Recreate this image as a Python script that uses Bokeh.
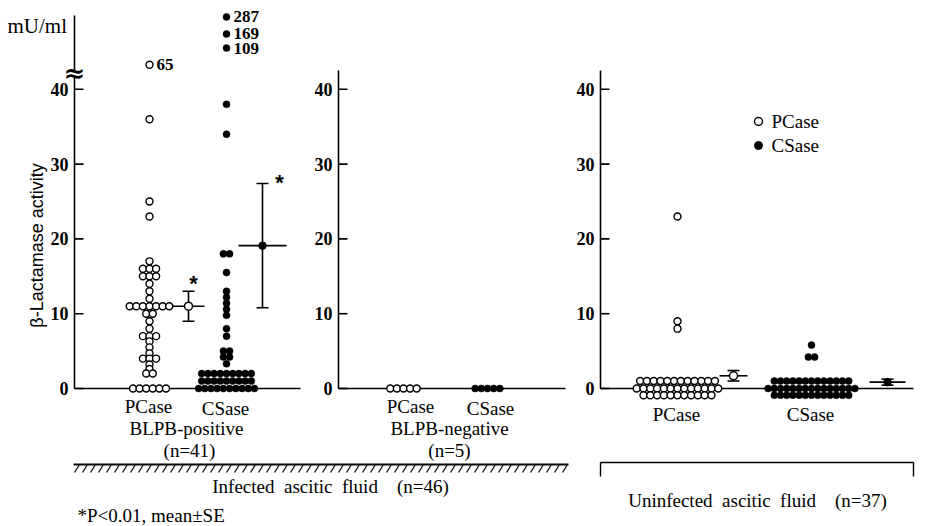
import math
from bokeh.plotting import figure
from bokeh.models import Range1d
from bokeh.core.properties import value
from bokeh.embed import file_html
from bokeh.resources import INLINE

# ------------------------------------------------------------------ data
tick_values = [0, 10, 20, 30, 40]

# BLPB-positive infected ascitic fluid (n=41)
pos_pcase = [65, 36, 25, 23, 17, 16, 16, 16, 15, 15, 15, 14, 13, 12,
             11, 11, 11, 11, 11, 11, 11, 10, 10, 9, 8, 7, 7, 7, 6.3, 5.5, 4.7,
             4, 4, 4, 3.2, 2.6, 2, 2, 0, 0, 0, 0, 0, 0]
pos_csase = [287, 169, 109, 38, 34, 18, 18, 15.5, 13, 12.2, 11.4, 10.6, 9.8,
             8, 7, 5, 5, 4.2, 4.2, 3.3,
             2, 2, 2, 2, 2, 2, 2, 2, 2,
             1, 1, 1, 1, 1, 1, 1, 1, 1,
             0, 0, 0, 0, 0, 0, 0, 0, 0, 0]
# BLPB-negative (n=5)
neg_pcase = [0, 0, 0, 0, 0]
neg_csase = [0, 0, 0, 0, 0]
# Uninfected ascitic fluid (n=37)
uninf_pcase = [23, 9, 8,
               1, 1, 1, 1, 1, 1, 1, 1, 1, 1, 1, 1,
               0, 0, 0, 0, 0, 0, 0, 0, 0, 0, 0, 0, 0, 0, 0, 0, 0, 0, 0, 0, 0, 0, 0, 0]
uninf_csase = [5.8, 4.2, 4.2,
               1, 1, 1, 1, 1, 1, 1, 1, 1, 1, 1, 1, 1,
               0, 0, 0, 0, 0, 0, 0, 0, 0, 0, 0, 0, 0, 0,
               0, 0, 0, 0, 0, 0, 0, 0, 0, 0, 0, 0, 0, 0]

# mean +/- SE (pos PCase, pos CSase, uninf PCase, uninf CSase)
mean_values = [11.0, 19.1, 1.7, 0.85]
se_values = [2.0, 8.3, 0.7, 0.4]
mean_open = [True, False, True, False]

# ------------------------------------------------------------------ layout helpers
W, H = 927, 526
PX = 7.48      # pixels per unit
Y0 = 388       # pixel row of value 0


def ry(py):
    return (Y0 - py) / PX


def disp(v):
    # broken axis above 40
    return v if v <= 40 else 41.2 + 4.3 * math.log(v / 40.0)


def swarm(vals, cx, step, per_row, row_gap=0.9):
    groups = {}
    for v in vals:
        groups[v] = groups.get(v, 0) + 1
    xs, ys = [], []
    for v, n in groups.items():
        yv = disp(v)
        remaining = n
        r = 0
        while remaining > 0:
            k = min(per_row, remaining)
            remaining -= k
            for i in range(k):
                xs.append(cx + (i - (k - 1) / 2) * step)
                ys.append(yv - r * row_gap)
            r += 1
    return xs, ys


SERIF = "Liberation Serif"

p = figure(width=W, height=H, x_range=Range1d(0, W),
           y_range=Range1d(ry(H), ry(0)), output_backend="svg",
           toolbar_location=None, title=None, x_axis_location=None,
           y_axis_location=None)
p.min_border_left = 0
p.min_border_right = 0
p.min_border_top = 0
p.min_border_bottom = 0
p.outline_line_color = None
p.grid.visible = False
p.background_fill_color = "white"
p.border_fill_color = "white"

# y axes of the three panels
axis_x = [74, 338, 600]
axis_top = [ry(15), ry(70), ry(70)]
for axx, top in zip(axis_x, axis_top):
    p.segment(x0=[axx], y0=[0], x1=[axx], y1=[top], line_color="black", line_width=1.6)
    p.segment(x0=[axx] * len(tick_values), y0=tick_values,
              x1=[axx + 9] * len(tick_values), y1=tick_values,
              line_color="black", line_width=1.6)
    p.text(x=[axx - 6] * len(tick_values), y=tick_values, text=[str(t) for t in tick_values],
           text_font=value(SERIF), text_font_style="bold", text_font_size="18px",
           text_align="right", text_baseline="middle", text_color="black")

# axis break mark on the first axis
p.rect(x=[74], y=[ry(73)], width=6, height=0.6, fill_color="white", line_color=None)
p.text(x=[74], y=[ry(72)], text=["\u2248"], text_font=value("DejaVu Serif"),
       text_font_size="26px", text_font_style="bold", text_align="center",
       text_baseline="middle", text_color="black")
p.text(x=[7], y=[ry(25)], text=["mU/ml"], text_font=value(SERIF), text_font_size="21px",
       text_align="left", text_baseline="middle", text_color="black")
p.text(x=[36], y=[ry(245)], text=["\u03b2-Lactamase activity"], angle=math.pi / 2,
       text_font=value("Liberation Sans"), text_font_size="18px", text_align="center",
       text_baseline="middle", text_color="black")

# baselines
p.segment(x0=[74, 338, 600], y0=[0, 0, 0], x1=[300, 565, 913], y1=[0, 0, 0],
          line_color="black", line_width=1.6)

# dots
groups = [
    (pos_pcase, 149, True, 6.6, 13),
    (pos_csase, 226, False, 6.2, 10),
    (neg_pcase, 403, True, 6.6, 13),
    (neg_csase, 487, False, 6.2, 10),
    (uninf_pcase, 677, True, 6.8, 13),
    (uninf_csase, 811, False, 6.2, 15),
]
for vals, cx, is_open, step, per_row in groups:
    xs, ys = swarm(vals, cx, step, per_row)
    if is_open:
        p.scatter(xs, ys, size=7, marker="circle", fill_color="white",
                  line_color="black", line_width=1.4)
    else:
        p.scatter(xs, ys, size=7, marker="circle", fill_color="black",
                  line_color="black", line_width=0.5)

# labels of off-scale values
off_x, off_y, off_t = [], [], []
for vals, cx in ((pos_pcase, 149), (pos_csase, 226)):
    for v in vals:
        if v > 40:
            off_x.append(cx + 7)
            off_y.append(disp(v))
            off_t.append(str(v))
p.text(x=off_x, y=off_y, text=off_t, text_font=value(SERIF), text_font_style="bold",
       text_font_size="17px", text_align="left", text_baseline="middle", text_color="black")

# mean +/- SE
mean_x = [188, 262, 733, 887]
mean_hw = [16, 24, 14, 18]
cap_hw = 6
for mx, m, s, hw, op in zip(mean_x, mean_values, se_values, mean_hw, mean_open):
    p.segment(x0=[mx - hw, mx, mx - cap_hw, mx - cap_hw],
              y0=[m, m - s, m + s, m - s],
              x1=[mx + hw, mx, mx + cap_hw, mx + cap_hw],
              y1=[m, m + s, m + s, m - s], line_color="black", line_width=1.6)
    if op:
        p.scatter([mx], [m], size=8, marker="circle", fill_color="white",
                  line_color="black", line_width=1.5)
    else:
        p.scatter([mx], [m], size=7.5, marker="circle", fill_color="black", line_color="black")

# significance stars
star_dx = [5, 17]
star_dy = [1.05, 0.2]
p.text(x=[mean_x[i] + star_dx[i] for i in range(2)],
       y=[mean_values[i] + se_values[i] + star_dy[i] for i in range(2)],
       text=["*", "*"], text_font=value("Liberation Sans"), text_font_style="bold",
       text_font_size="22px", text_align="center", text_baseline="alphabetic",
       text_color="black")

# legend
p.scatter([758], [ry(121)], size=8, marker="circle", fill_color="white",
          line_color="black", line_width=1.4)
p.scatter([758], [ry(145)], size=8, marker="circle", fill_color="black", line_color="black")
p.text(x=[771, 771], y=[ry(121), ry(145)], text=["PCase", "CSase"],
       text_font=value(SERIF), text_font_size="19px", text_align="left",
       text_baseline="middle", text_color="black")

# category labels
lab_x = [148, 225, 186, 189, 410, 490, 449, 449, 676, 810]
lab_y = [406, 408, 428, 450, 406, 408, 428, 450, 414, 414]
lab_t = ["PCase", "CSase", "BLPB-positive", "(n=41)", "PCase", "CSase", "BLPB-negative",
         "(n=5)", "PCase", "CSase"]
p.text(x=lab_x, y=[ry(v) for v in lab_y], text=lab_t, text_font=value(SERIF),
       text_font_size="19px", text_align="center", text_baseline="middle", text_color="black")

# infected bar (hatched) and uninfected bracket
hx = list(range(74, 566, 8))
p.segment(x0=hx, y0=[ry(472)] * len(hx), x1=[x + 5 for x in hx], y1=[ry(464)] * len(hx),
          line_color="black", line_width=1.3)
p.segment(x0=[73], y0=[ry(464)], x1=[568], y1=[ry(464)], line_color="black", line_width=1.8)
p.segment(x0=[600, 600, 913], y0=[ry(462)] * 3, x1=[913, 600, 913],
          y1=[ry(462), ry(476), ry(476)], line_color="black", line_width=1.4)
p.text(x=[330, 757], y=[ry(486), ry(500)],
       text=["Infected\u2002ascitic\u2002fluid\u2002\u2002(n=46)",
             "Uninfected\u2002ascitic\u2002fluid\u2002\u2002(n=37)"],
       text_font=value(SERIF), text_font_size="19px", text_align="center",
       text_baseline="middle", text_color="black")

p.text(x=[77], y=[ry(515)], text=["*P<0.01, mean\u00b1SE"], text_font=value(SERIF),
       text_font_size="19px", text_align="left", text_baseline="middle", text_color="black")

open("out.html", "w").write(file_html(p, INLINE))
